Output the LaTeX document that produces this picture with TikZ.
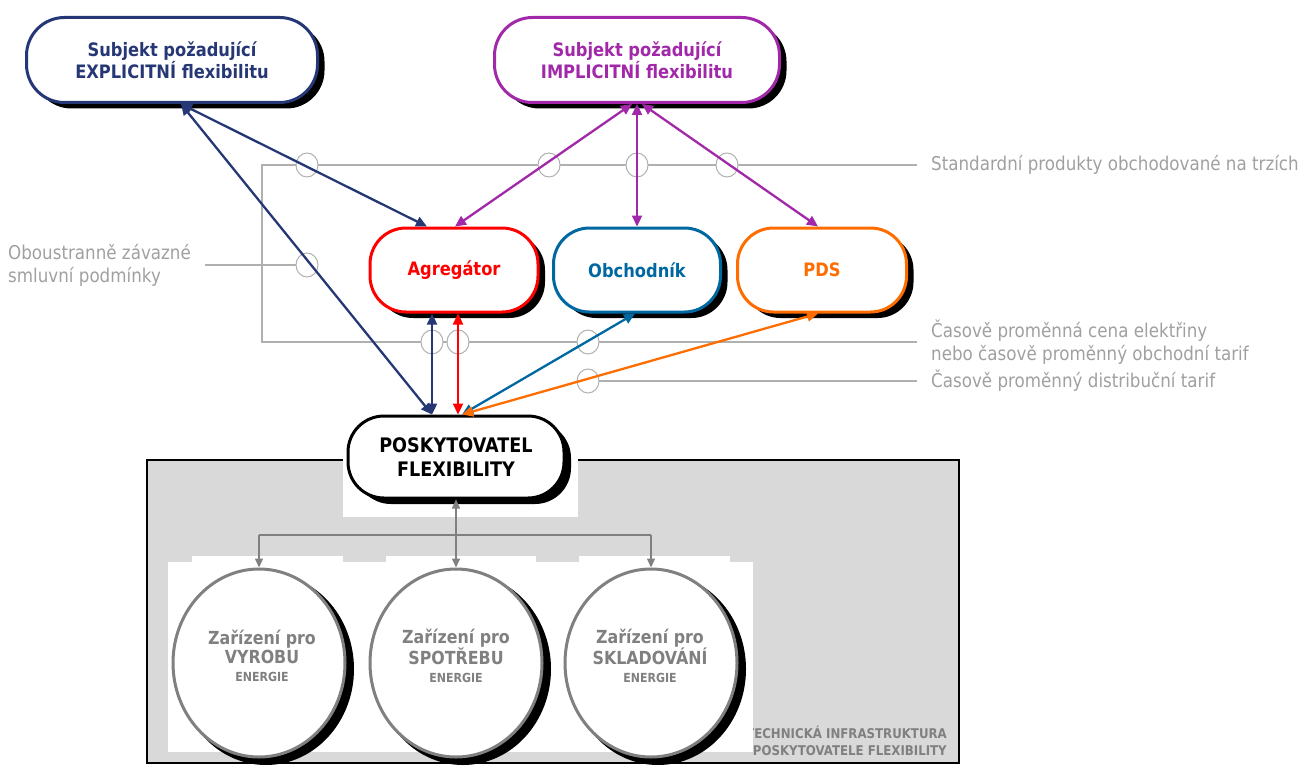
\documentclass[tikz,border=0pt]{standalone}
\usepackage{fontspec}
\setmainfont{DejaVu Sans}
\newfontfamily\tah[FakeStretch=0.88]{DejaVu Sans}
\usetikzlibrary{shadows,calc,arrows.meta,shapes.geometric}
\definecolor{navy}{RGB}{38,55,118}
\definecolor{purp}{RGB}{162,40,170}
\definecolor{red1}{RGB}{255,0,0}
\definecolor{blue1}{RGB}{0,104,160}
\definecolor{orng}{RGB}{255,108,0}
\definecolor{lgray}{RGB}{176,176,176}
\definecolor{tgray}{RGB}{160,160,160}
\definecolor{bggray}{RGB}{217,217,217}
\definecolor{dgray}{RGB}{128,128,128}
\begin{document}
\begin{tikzpicture}[x=1pt,y=-1pt,
  pill/.style={draw=#1, text=#1, line width=3pt, fill=white, rounded corners=38pt,
    align=center, font=\tah\bfseries\fontsize{18.5}{22}\selectfont, inner sep=0pt,
    drop shadow={shadow xshift=7pt, shadow yshift=-6pt, opacity=1, fill=black}},
  dev/.style={ellipse, draw=dgray, line width=3pt, fill=white,
    minimum width=172pt, minimum height=188pt, inner sep=0pt},
  devshadow/.style={fill=black},
  devtext/.style={text=dgray, align=center, inner sep=0pt, font=\tah\bfseries\fontsize{18}{19}\selectfont},
  lc/.style={ellipse, draw=lgray, line width=1pt, fill=white, minimum width=22pt, minimum height=24pt, inner sep=0pt},
  lline/.style={draw=lgray, line width=1.2pt},
  ltext/.style={text=tgray, font=\tah\fontsize{19}{23}\selectfont, align=left, inner sep=0pt},
  conn/.style={line width=2.3pt, draw=#1, {Triangle[length=11pt,width=10pt]}-{Triangle[length=11pt,width=10pt]}},
  garrow/.style={line width=1.5pt, draw=dgray, -{Triangle[length=9pt,width=8pt]}}
]
\useasboundingbox (0,0) rectangle (1305,765);
% background technical infrastructure
\draw[fill=bggray, draw=black, line width=2.5pt] (147,460) rectangle (959,763);
\node[anchor=east, text=dgray, font=\tah\bfseries\fontsize{13.4}{17}\selectfont, align=right, inner sep=0pt] (tech) at (947,741) {TECHNICKÁ INFRASTRUKTURA\\POSKYTOVATELE FLEXIBILITY};
\fill[white] (343,458) rectangle (578,517);
\fill[white] (168,562) rectangle (753,752);
\fill[white] (192,556) rectangle (343,562);
\fill[white] (386,556) rectangle (536,562);
\fill[white] (579,556) rectangle (730,562);

% legend labels
\node[ltext, anchor=west] (std) at (931,165) {Standardní produkty obchodované na trzích};
\node[ltext, anchor=west] (cas) at (931,342) {Časově proměnná cena elektřiny\\nebo časově proměnný obchodní tarif};
\node[ltext, anchor=west] (dis) at (931,381) {Časově proměnný distribuční tarif};
\node[ltext, anchor=west] (obo) at (8,265) {Oboustranně závazné\\smluvní podmínky};
\coordinate (stdL) at (917,165);
\coordinate (casL) at (917,342);
\coordinate (disL) at (917,381);
\coordinate (oboR) at (205,265);
\coordinate (corner) at (262,165);
\draw[lline] (stdL) -- (corner) -- (corner |- casL) -- (casL);
\draw[lline] (oboR) -- (307,265);
\draw[lline] (588,381) -- (disL);

% legend circles
\node[lc] (l1) at (307,165) {};
\node[lc] (l2) at (549,165) {};
\node[lc] (l3) at (637,165) {};
\node[lc] (l4) at (727,165) {};
\node[lc] (l5) at (307,265) {};
\node[lc] (l6) at (432,342) {};
\node[lc] (l7) at (458,342) {};
\node[lc] (l8) at (588,342) {};
\node[lc] (l9) at (588,381) {};

% main nodes
\node[pill=navy, minimum width=291pt, minimum height=85pt] (expl) at (172,60) {Subjekt požadující\\EXPLICITNÍ flexibilitu};
\node[pill=purp, minimum width=285pt, minimum height=85pt] (impl) at (637,60) {Subjekt požadující\\IMPLICITNÍ flexibilitu};
\node[pill=red1, minimum width=168pt, minimum height=84pt, rounded corners=36pt] (ag) at (454,270) {Agregátor};
\node[pill=blue1, minimum width=167pt, minimum height=84pt, rounded corners=36pt] (ob) at (637,270) {Obchodník};
\node[pill=orng, minimum width=169pt, minimum height=84pt, rounded corners=36pt] (pds) at (822,270) {PDS};
\node[pill=black, minimum width=216pt, minimum height=82pt, rounded corners=36pt, font=\tah\bfseries\fontsize{20}{24}\selectfont] (posk) at (456,457) {POSKYTOVATEL\\FLEXIBILITY};

% devices
\fill[devshadow] (266,669) ellipse [x radius=88pt, y radius=96pt];
\fill[devshadow] (463,669) ellipse [x radius=88pt, y radius=96pt];
\fill[devshadow] (658,669) ellipse [x radius=88pt, y radius=96pt];
\node[dev] (d1) at (259,663) {};
\node[dev] (d2) at (456,663) {};
\node[dev] (d3) at (651,663) {};
\node[devtext] (d1t) at (262,656) {Zařízení pro\\VYROBU\\[-1pt]{\fontsize{12.5}{15}\selectfont ENERGIE}};
\node[devtext] (d2t) at (456,656) {Zařízení pro\\SPOTŘEBU\\[-1pt]{\fontsize{12.5}{15}\selectfont ENERGIE}};
\node[devtext] (d3t) at (650,656) {Zařízení pro\\SKLADOVÁNÍ\\[-1pt]{\fontsize{12.5}{15}\selectfont ENERGIE}};

% connectors
\draw[conn=navy] ($(expl.south)+(9,0)$) -- ($(ag.north)+(-27,0)$);
\draw[conn=navy] ($(expl.south)+(9,0)$) -- ($(posk.north)+(-24,0)$);
\draw[conn=navy] ($(ag.south)+(-22,0)$) -- ($(posk.north)+(-24,0)$);
\draw[conn=red1] ($(ag.south)+(4,0)$) -- ($(posk.north)+(2,0)$);
\draw[conn=blue1] ($(ob.south)+(-2,0)$) -- ($(posk.north)+(6,0)$);
\draw[conn=orng] ($(pds.south)+(-4,0)$) -- ($(posk.north)+(6,0)$);
\draw[conn=purp] ($(impl.south)+(-5,0)$) -- ($(ag.north)+(1,0)$);
\draw[conn=purp] (impl.south) -- (ob.north);
\draw[conn=purp] ($(impl.south)+(5,0)$) -- ($(pds.north)+(-4,0)$);

% device links
\coordinate (hub) at (456,535);
\draw[line width=1.5pt, draw=dgray, {Triangle[length=9pt,width=8pt]}-{Triangle[length=9pt,width=8pt]}] (posk.south) -- (d2.north);
\draw[line width=1.5pt, draw=dgray] (d1.north |- hub) -- (d3.north |- hub);
\draw[garrow] (d1.north |- hub) -- (d1.north);
\draw[garrow] (d3.north |- hub) -- (d3.north);
\end{tikzpicture}
\end{document}
